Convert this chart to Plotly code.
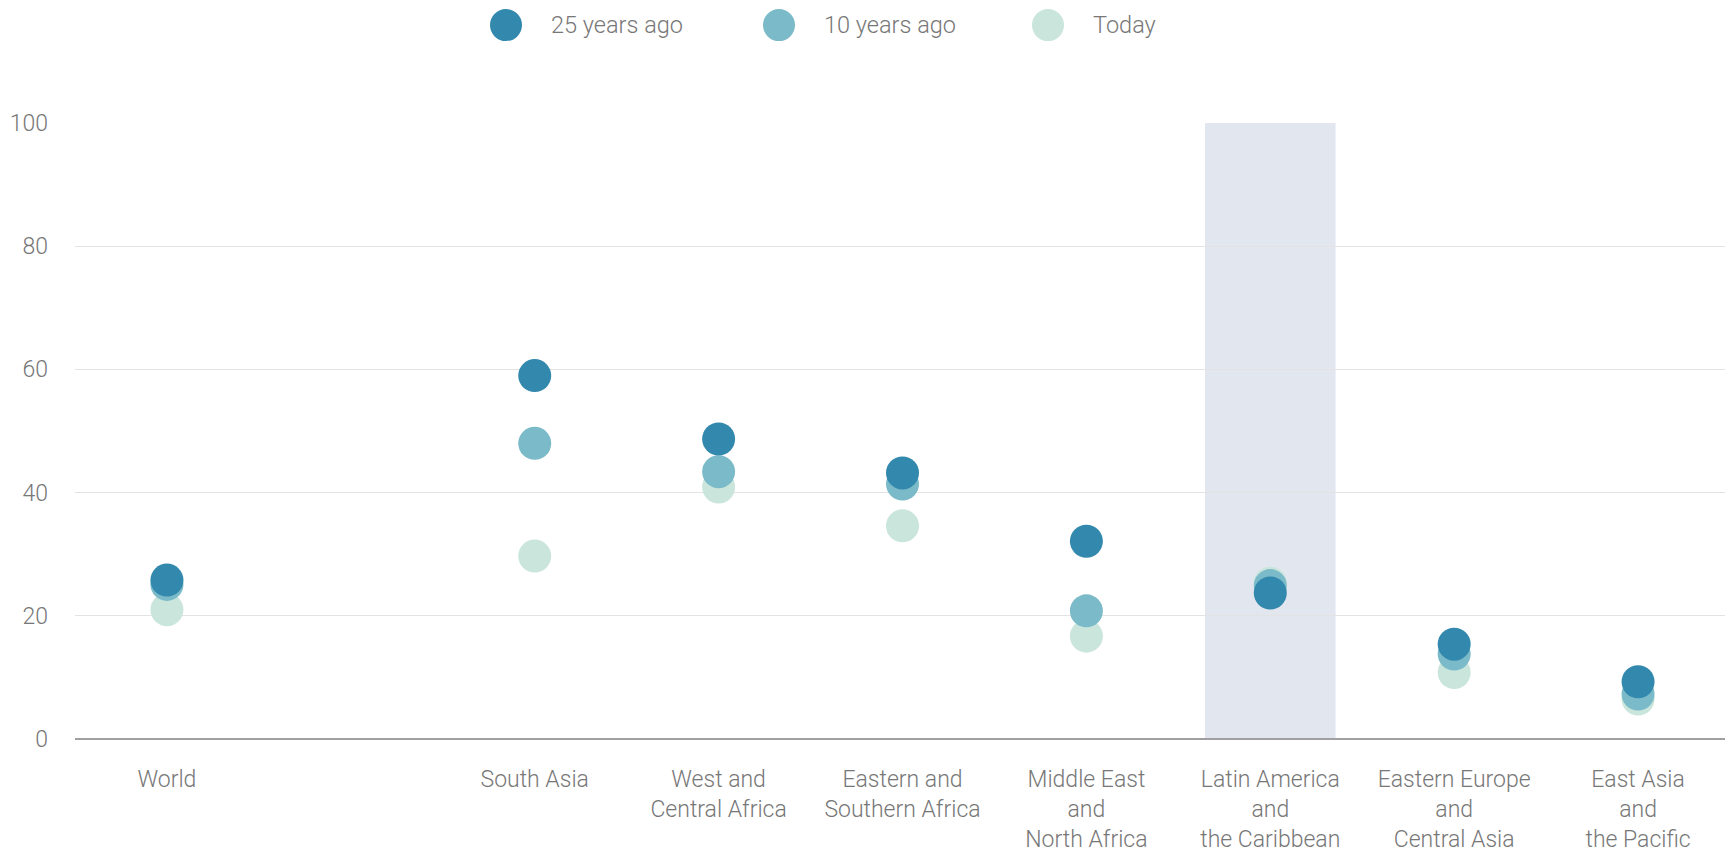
import plotly.graph_objects as go

categories = ["World", "", "South Asia", "West and<br>Central Africa", "Eastern and<br>Southern Africa",
              "Middle East<br>and<br>North Africa", "Latin America<br>and<br>the Caribbean",
              "Eastern Europe<br>and<br>Central Asia", "East Asia<br>and<br>the Pacific"]
years_25 = [25.8, None, 59.0, 48.7, 43.2, 32.1, 23.7, 15.4, 9.3]
years_10 = [25.1, None, 48.0, 43.4, 41.4, 20.8, 24.9, 13.8, 7.3]
today = [21.0, None, 29.7, 40.9, 34.6, 16.7, 25.3, 10.8, 6.5]
series_names = ["25 years ago", "10 years ago", "Today"]
colors = ["#3288ad", "#7bbac8", "#c9e5dc"]
highlight = "Latin America<br>and<br>the Caribbean"
y_ticks = [0, 20, 40, 60, 80, 100]

FONT = "Roboto"
TXT = "#777777"

x_idx = list(range(len(categories)))
fig = go.Figure()
# draw order: today, 10y, 25y on top
for name, vals, col in reversed(list(zip(series_names, [years_25, years_10, today], colors))):
    fig.add_trace(go.Scatter(
        x=x_idx, y=vals, mode="markers", name=name,
        marker=dict(size=33, color=col, line=dict(width=0)),
        showlegend=False,
    ))

hi = categories.index(highlight)
fig.add_shape(type="rect", xref="x", yref="y", x0=hi - 0.355, x1=hi + 0.355, y0=0, y1=100,
              fillcolor="#e1e6ef", line=dict(width=0), layer="below")

# page offset (body margin) and plot box in page pixels
O = 8
W, H = 1733, 850
left, right, top, bottom = 75, 1730, 123, 739.5
ml, mr, mt, mb = left - O, W - (right - O), top - O, H - (bottom - O)
pw, ph = W - ml - mr, H - mt - mb

# custom legend (large circles)
leg_cx = [506, 779, 1048]
leg_tx = [549, 822, 1091]
leg_y = 25
yp = (bottom - leg_y) / ph
for name, col, cx, tx in zip(series_names, colors, leg_cx, leg_tx):
    xp = (cx - left) / pw
    fig.add_shape(type="circle", xref="paper", yref="paper", xsizemode="pixel", ysizemode="pixel",
                  xanchor=xp, yanchor=yp, x0=-16, x1=16, y0=-16, y1=16,
                  fillcolor=col, line=dict(width=0))
    fig.add_annotation(xref="paper", yref="paper", x=(tx - left) / pw, y=yp, text=name,
                       showarrow=False, xanchor="left", yanchor="middle",
                       font=dict(family=FONT, size=23.5, color=TXT, weight=300))

fig.update_layout(
    width=W, height=H,
    margin=dict(l=ml, r=mr, t=mt, b=mb, autoexpand=False),
    plot_bgcolor="white", paper_bgcolor="white",
    font=dict(family=FONT, size=23, color=TXT, weight=300),
)
fig.update_xaxes(
    range=[-0.5, len(categories) - 0.5], tickmode="array", tickvals=x_idx, ticktext=categories,
    showgrid=False, zeroline=False, showline=False, ticks="", ticklabelstandoff=24,
    automargin=False,
    tickfont=dict(family=FONT, size=23, color=TXT, weight=300),
)
fig.update_yaxes(
    range=[0, 100], tickmode="array", tickvals=y_ticks, showgrid=True, gridcolor="#e3e3e3",
    gridwidth=1, zeroline=True, zerolinecolor="#a0a0a0", zerolinewidth=2, showline=False,
    ticks="", ticklabelstandoff=26, automargin=False,
    tickfont=dict(family=FONT, size=23, color=TXT, weight=300),
)

fig.write_html("out.html")
